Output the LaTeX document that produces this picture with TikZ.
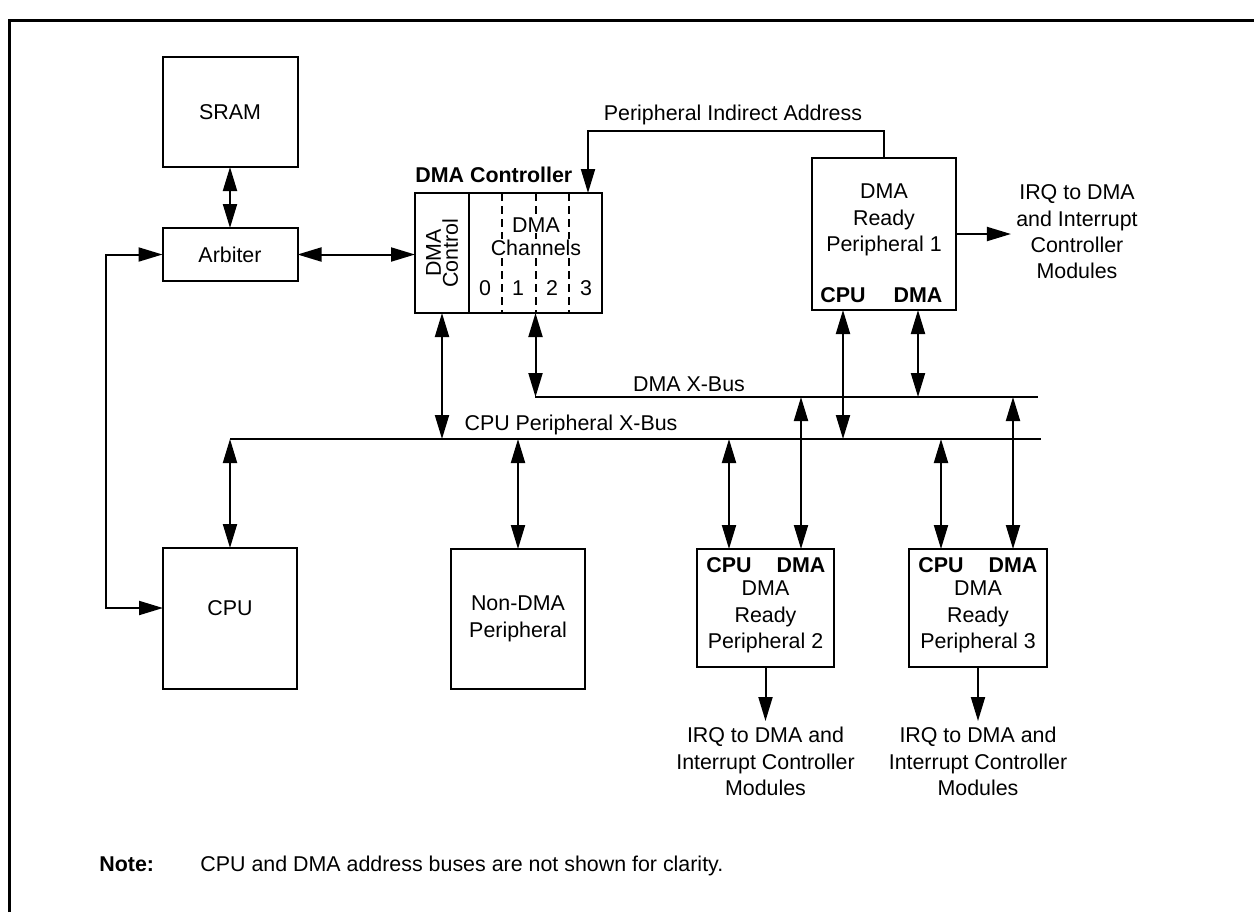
\documentclass[tikz,border=0pt]{standalone}
\usepackage{fontspec}
\setmainfont{Liberation Sans}
\usetikzlibrary{arrows.meta,positioning,calc}

\begin{document}
\begin{tikzpicture}[
    x=0.5pt, y=-0.5pt,
    every node/.style={font=\fontsize{10.7}{13.2}\selectfont},
    blk/.style={rectangle, draw=black, line width=1pt, inner sep=0pt, outer sep=0pt, align=center},
    txt/.style={align=center, inner sep=1pt},
    lbl/.style={font=\fontsize{10.7}{13.2}\selectfont\bfseries, inner sep=0pt},
    arr/.style={{Triangle[length=12pt,width=7pt]}-{Triangle[length=12pt,width=7pt]}, line width=1pt},
    arrone/.style={-{Triangle[length=12pt,width=7pt]}, line width=1pt},
    bus/.style={line width=1pt},
    chdash/.style={line width=1pt, dash pattern=on 4pt off 2.5pt}
]
    \useasboundingbox (0,0) rectangle (1254,912);
    \draw[line width=1.5pt] (9,912) -- (9,20) -- (1254,20);

    % Memory side
    \node (sram) [blk, minimum width=67.5pt, minimum height=55pt] at (230,112) {SRAM};
    \node (arb) [blk, minimum width=67.5pt, minimum height=26.5pt] at (230,254.5) {Arbiter};
    \node (cpu) [blk, minimum width=67pt, minimum height=70.5pt] at (230,618.5) {};
    \node (cputxt) [txt] at (230,608) {CPU};

    % DMA controller
    \node (dmactl) [blk, minimum width=27pt, minimum height=60pt] at (442,253) {};
    \node (chan) [blk, minimum width=66.5pt, minimum height=60pt, anchor=west] at (dmactl.east) {};
    \node (dmactltxt) [rotate=90, align=center, inner sep=0pt, font=\fontsize{10.7}{8.5}\selectfont] at (dmactl) {DMA\\Control};
    \node (dmattl) [lbl, above right=5pt and 0pt of dmactl.north west] {DMA Controller};
    \foreach \f in {0.25,0.5,0.75}
        \draw[chdash] ($(chan.north west)!\f!(chan.north east)$) -- ($(chan.south west)!\f!(chan.south east)$);
    \node (chtxta) [txt, fill=white, inner sep=0.5pt] at (536,225) {DMA};
    \node (chtxtb) [txt, fill=white, inner sep=0.5pt] at (536,248) {Channels};
    \foreach \n/\x in {0/485,1/518,2/552,3/586}
        \node (ch\n) at (\x,288) {\n};

    % Peripheral 1
    \node (p1) [blk, minimum width=72pt, minimum height=76pt] at (884,234) {};
    \node (p1txt) [txt] at (884,220) {DMA\\Ready\\Peripheral 1};
    \node (p1cpu) [lbl] at (843,295) {CPU};
    \node (p1dma) [lbl] at (918,295) {DMA};
    \node (irq1) [txt] at (1077,232) {IRQ to DMA\\and Interrupt\\Controller\\Modules};

    % Lower peripherals
    \node (ndma) [blk, minimum width=67pt, minimum height=70pt] at (518,619) {Non-DMA\\Peripheral};

    \node (p2) [blk, minimum width=68.5pt, minimum height=59pt] at (765.5,608) {};
    \node (p2cpu) [lbl] at (729,565) {CPU};
    \node (p2dma) [lbl] at (801,565) {DMA};
    \node (p2txt) [txt] at (765.5,617) {DMA\\Ready\\Peripheral 2};
    \node (irq2) [txt, anchor=north, inner ysep=3pt] at (765.5,721) {IRQ to DMA and\\Interrupt Controller\\Modules};

    \node (p3) [blk, minimum width=69pt, minimum height=59pt] at (978,608) {};
    \node (p3cpu) [lbl] at (941,565) {CPU};
    \node (p3dma) [lbl] at (1013,565) {DMA};
    \node (p3txt) [txt] at (978,617) {DMA\\Ready\\Peripheral 3};
    \node (irq3) [txt, anchor=north, inner ysep=3pt] at (978,721) {IRQ to DMA and\\Interrupt Controller\\Modules};

    % Buses
    \coordinate (dbusL) at (535,397);
    \coordinate (dbusR) at (1038,397);
    \coordinate (cbusL) at (230,439);
    \coordinate (cbusR) at (1041,439);
    \draw[bus] (dbusL) -- (dbusR);
    \draw[bus] (cbusL) -- (cbusR);
    \node (dbuslbl) at (689,384) {DMA X-Bus};
    \node (cbuslbl) at (571,425) {CPU Peripheral X-Bus};

    % Peripheral indirect address
    \coordinate (pia) at (588,131);
    \draw[arrone] (p1.north) |- (pia) -- (pia |- chan.north);
    \node (pialbl) at (733,115) {Peripheral Indirect Address};

    % Connectors
    \coordinate (loop) at (106,0);
    \draw[arr] (sram) -- (arb);
    \draw[arr] (arb) -- (arb -| dmactl.west);
    \draw[arr] (arb.west) -- (arb.west -| loop) |- (cputxt -| cpu.west);
    \draw[arr] (dmactl.south) -- (dmactl.south |- cbusL);
    \draw[arr] (chan.south) -- (chan.south |- dbusL);
    \draw[arr] (p1.south -| p1cpu) -- (p1cpu |- cbusL);
    \draw[arr] (p1.south -| p1dma) -- (p1dma |- dbusL);
    \draw[arr] (cbusL) -- (cpu.north);
    \draw[arr] (ndma.north |- cbusL) -- (ndma.north);
    \draw[arr] (p2cpu |- cbusL) -- (p2.north -| p2cpu);
    \draw[arr] (p2dma |- dbusL) -- (p2.north -| p2dma);
    \draw[arr] (p3cpu |- cbusL) -- (p3.north -| p3cpu);
    \draw[arr] (p3dma |- dbusL) -- (p3.north -| p3dma);
    \draw[arrone] (p1.east) -- ($(p1.east -| irq1.west)+(-3,0)$);
    \draw[arrone] (p2.south) -- (irq2.north);
    \draw[arrone] (p3.south) -- (irq3.north);

    % Note
    \node (notehd) [lbl, anchor=base west] at (99,871) {Note:};
    \node (notetx) [anchor=base west, inner sep=0pt] at (200,871) {CPU and DMA address buses are not shown for clarity.};
\end{tikzpicture}
\end{document}
